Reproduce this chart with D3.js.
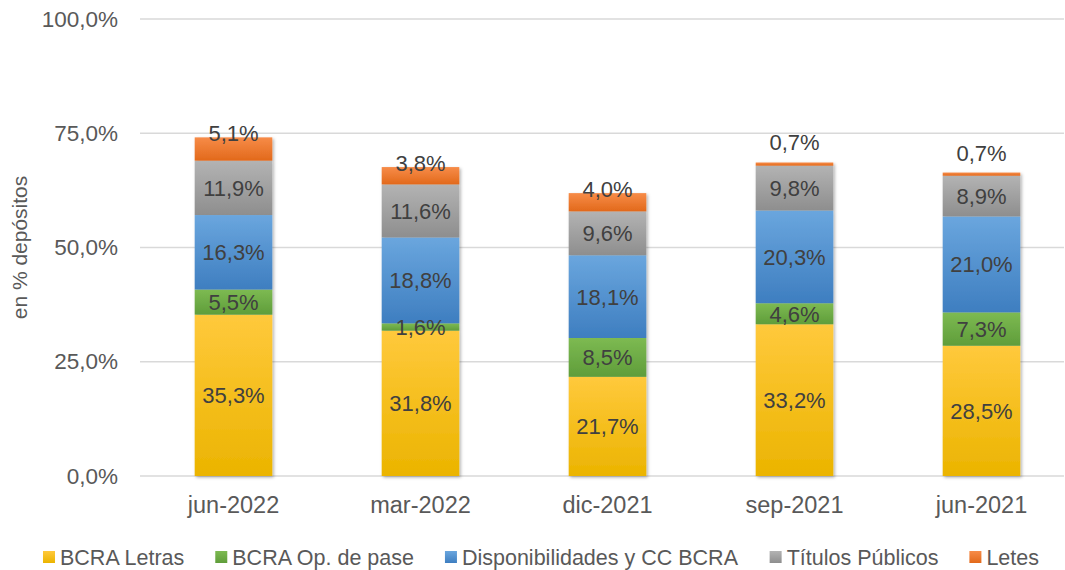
<!DOCTYPE html>
<html>
<head>
<meta charset="utf-8">
<script src="https://cdn.jsdelivr.net/npm/d3@7"></script>
<style>
  body { margin: 0; background: #fff; }
  text { font-family: "Liberation Sans", Arial, sans-serif; }
</style>
</head>
<body>
<div id="chart"></div>
<script>
const periods = ["jun-2022", "mar-2022", "dic-2021", "sep-2021", "jun-2021"];
const seriesNames = ["BCRA Letras", "BCRA Op. de pase", "Disponibilidades y CC BCRA", "Títulos Públicos", "Letes"];
const bcraLetras = [35.3, 31.8, 21.7, 33.2, 28.5];
const bcraPase = [5.5, 1.6, 8.5, 4.6, 7.3];
const disponibilidades = [16.3, 18.8, 18.1, 20.3, 21.0];
const titulosPublicos = [11.9, 11.6, 9.6, 9.8, 8.9];
const letes = [5.1, 3.8, 4.0, 0.7, 0.7];
const yTicks = [0, 25, 50, 75, 100];

const width = 1065, height = 570,
  margin = { top: 19, right: -10, bottom: 94, left: 140 };

// gradient top/bottom colors per series
const colors = [
  ["#ffc93c", "#ebb400"],
  ["#7dba52", "#5f9d3a"],
  ["#6aa6de", "#3e7ec0"],
  ["#b3b3b3", "#8e8e8e"],
  ["#f78c48", "#e2691b"]
];

const values = [bcraLetras, bcraPase, disponibilidades, titulosPublicos, letes];
const rows = periods.map((p, i) => {
  const r = { period: p };
  seriesNames.forEach((s, k) => r[s] = values[k][i]);
  return r;
});
const stacked = d3.stack().keys(seriesNames)(rows);

const fmt = v => d3.format(".1f")(v).replace(".", ",") + "%";

const svg = d3.select("#chart").append("svg")
  .attr("width", width).attr("height", height);

const defs = svg.append("defs");
colors.forEach((c, k) => {
  const g = defs.append("linearGradient")
    .attr("id", "grad" + k).attr("x1", 0).attr("y1", 0).attr("x2", 0).attr("y2", 1);
  g.append("stop").attr("offset", "0%").attr("stop-color", c[0]);
  g.append("stop").attr("offset", "100%").attr("stop-color", c[1]);
});
const shadow = defs.append("filter").attr("id", "shadow")
  .attr("x", "-20%").attr("y", "-5%").attr("width", "140%").attr("height", "110%");
shadow.append("feDropShadow")
  .attr("dx", 1.5).attr("dy", 1.5).attr("stdDeviation", 1.5)
  .attr("flood-color", "#000").attr("flood-opacity", 0.3);

const x = d3.scaleBand()
  .domain(periods)
  .range([margin.left, width - margin.right])
  .paddingInner(0.585).paddingOuter(0.2925);

const y = d3.scaleLinear()
  .domain([0, 100])
  .range([height - margin.bottom, margin.top]);

// gridlines
svg.append("g")
  .selectAll("line")
  .data(yTicks)
  .join("line")
  .attr("x1", margin.left).attr("x2", 1064)
  .attr("y1", d => y(d)).attr("y2", d => y(d))
  .attr("stroke", "#d9d9d9").attr("stroke-width", 1.5);

// y axis
const yAxis = d3.axisLeft(y).tickValues(yTicks).tickSize(0).tickPadding(22)
  .tickFormat(fmt);
svg.append("g")
  .attr("class", "axis y-axis")
  .attr("transform", `translate(${margin.left},0)`)
  .call(yAxis)
  .call(g => g.select(".domain").remove())
  .call(g => g.selectAll("text")
    .attr("fill", "#595959").style("font-size", "22.5px")
    .style("font-family", "'Liberation Sans', Arial, sans-serif"));

svg.append("text")
  .attr("transform", `translate(27,${(y(0) + y(100)) / 2}) rotate(-90)`)
  .attr("text-anchor", "middle")
  .attr("fill", "#595959")
  .style("font-size", "21px")
  .text("en % depósitos");

// bars
const layers = svg.append("g").attr("filter", "url(#shadow)")
  .selectAll("g")
  .data(stacked)
  .join("g")
  .attr("fill", (d, k) => `url(#grad${k})`);

layers.selectAll("rect")
  .data(d => d)
  .join("rect")
  .attr("x", d => x(d.data.period))
  .attr("width", x.bandwidth())
  .attr("y", d => y(d[1]))
  .attr("height", d => y(d[0]) - y(d[1]));

// data labels
const labelG = svg.append("g")
  .attr("fill", "#404040")
  .style("font-size", "22px")
  .attr("text-anchor", "middle");

stacked.forEach((layer, k) => {
  labelG.selectAll(null)
    .data(layer)
    .join("text")
    .attr("x", d => x(d.data.period) + x.bandwidth() / 2)
    .attr("y", d => {
      const v = d[1] - d[0];
      if (k === seriesNames.length - 1) {
        return v < 1 ? y(d[1]) - 12 : y(d[1]) + 4;
      }
      return y((d[0] + d[1]) / 2) + 8;
    })
    .text(d => fmt(d[1] - d[0]));
});

// x axis
const xAxis = d3.axisBottom(x).tickSize(0).tickPadding(20);
svg.append("g")
  .attr("class", "axis x-axis")
  .attr("transform", `translate(0,${y(0)})`)
  .call(xAxis)
  .call(g => g.select(".domain").remove())
  .call(g => g.selectAll("text")
    .attr("fill", "#595959").style("font-size", "23.5px")
    .style("font-family", "'Liberation Sans', Arial, sans-serif"));

// legend
const legend = svg.append("g").attr("transform", "translate(0,557)");
const items = legend.selectAll("g")
  .data(seriesNames)
  .join("g");
items.append("rect")
  .attr("width", 12).attr("height", 12).attr("y", -6)
  .attr("fill", (d, k) => `url(#grad${k})`);
items.append("text")
  .attr("x", 17).attr("dy", "0.35em")
  .attr("fill", "#595959")
  .style("font-size", "21.5px")
  .text(d => d);
let cx = 0;
const offsets = [];
items.each(function() {
  offsets.push(cx);
  cx += this.getBBox().width + 31;
});
const start = 541 - (cx - 31) / 2;
items.attr("transform", (d, k) => `translate(${start + offsets[k]},0)`);
</script>
</body>
</html>
